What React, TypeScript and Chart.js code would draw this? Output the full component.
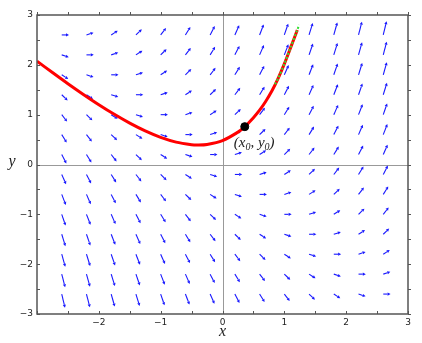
import React, { useEffect, useRef } from "react";
import { Chart, registerables } from "chart.js";

Chart.register(...registerables);

// Grid of slope-field arrow tails
const gridX = [-2.6, -2.2, -1.8, -1.4, -1.0, -0.6, -0.2, 0.2, 0.6, 1.0, 1.4, 1.8, 2.2, 2.6];
const gridY = [2.6, 2.2, 1.8, 1.4, 1.0, 0.6, 0.2, -0.2, -0.6, -1.0, -1.4, -1.8, -2.2, -2.6];

// slope dy/dx read at each grid point (rows follow gridY, columns follow gridX)
const slopes = [
  [0, 0.4, 0.8, 1.2, 1.6, 2.0, 2.4, 2.8, 3.2, 3.6, 4.0, 4.4, 4.8, 5.2],
  [-0.4, 0, 0.4, 0.8, 1.2, 1.6, 2.0, 2.4, 2.8, 3.2, 3.6, 4.0, 4.4, 4.8],
  [-0.8, -0.4, 0, 0.4, 0.8, 1.2, 1.6, 2.0, 2.4, 2.8, 3.2, 3.6, 4.0, 4.4],
  [-1.2, -0.8, -0.4, 0, 0.4, 0.8, 1.2, 1.6, 2.0, 2.4, 2.8, 3.2, 3.6, 4.0],
  [-1.6, -1.2, -0.8, -0.4, 0, 0.4, 0.8, 1.2, 1.6, 2.0, 2.4, 2.8, 3.2, 3.6],
  [-2.0, -1.6, -1.2, -0.8, -0.4, 0, 0.4, 0.8, 1.2, 1.6, 2.0, 2.4, 2.8, 3.2],
  [-2.4, -2.0, -1.6, -1.2, -0.8, -0.4, 0, 0.4, 0.8, 1.2, 1.6, 2.0, 2.4, 2.8],
  [-2.8, -2.4, -2.0, -1.6, -1.2, -0.8, -0.4, 0, 0.4, 0.8, 1.2, 1.6, 2.0, 2.4],
  [-3.2, -2.8, -2.4, -2.0, -1.6, -1.2, -0.8, -0.4, 0, 0.4, 0.8, 1.2, 1.6, 2.0],
  [-3.6, -3.2, -2.8, -2.4, -2.0, -1.6, -1.2, -0.8, -0.4, 0, 0.4, 0.8, 1.2, 1.6],
  [-4.0, -3.6, -3.2, -2.8, -2.4, -2.0, -1.6, -1.2, -0.8, -0.4, 0, 0.4, 0.8, 1.2],
  [-4.4, -4.0, -3.6, -3.2, -2.8, -2.4, -2.0, -1.6, -1.2, -0.8, -0.4, 0, 0.4, 0.8],
  [-4.8, -4.4, -4.0, -3.6, -3.2, -2.8, -2.4, -2.0, -1.6, -1.2, -0.8, -0.4, 0, 0.4],
  [-5.2, -4.8, -4.4, -4.0, -3.6, -3.2, -2.8, -2.4, -2.0, -1.6, -1.2, -0.8, -0.4, 0],
];

// Solution curve (red)
const curveX = [-3, -2.75, -2.5, -2.25, -2, -1.75, -1.5, -1.25, -1, -0.75, -0.5, -0.4, -0.25, 0, 0.25, 0.36, 0.5, 0.6, 0.7, 0.8, 0.9, 1.0, 1.1, 1.21];
const curveY = [2.074, 1.845, 1.621, 1.406, 1.2, 1.007, 0.83, 0.674, 0.544, 0.449, 0.398, 0.392, 0.403, 0.48, 0.65, 0.76, 0.94, 1.09, 1.27, 1.48, 1.73, 2.02, 2.34, 2.7];

// Overlaid dotted curve (green)
const dotX = [0.85, 0.9, 1.0, 1.1, 1.2, 1.24];
const dotY = [1.61, 1.73, 2.02, 2.34, 2.67, 2.8];

// Initial point
const pointX = [0.36];
const pointY = [0.76];
const pointLabel = ["(x", "0", ", y", "0", ")"];

const xTicks = [-3, -2, -1, 0, 1, 2, 3];
const yTicks = [-3, -2, -1, 0, 1, 2, 3];
const xTitle = "x";
const yTitle = "y";

const fmt = (v: number) => (v < 0 ? "\u2212" + Math.abs(v) : String(v));

const decorPlugin = {
  id: "decor",
  beforeDatasetsDraw(chart: any) {
    const { ctx, chartArea: a, scales } = chart;
    const xs = scales.x;
    const ys = scales.y;
    ctx.save();
    // zero axes
    ctx.strokeStyle = "#999";
    ctx.lineWidth = 1;
    const zx = Math.round(xs.getPixelForValue(0)) + 0.5;
    const zy = Math.round(ys.getPixelForValue(0)) + 0.5;
    ctx.beginPath();
    ctx.moveTo(zx, a.top);
    ctx.lineTo(zx, a.bottom);
    ctx.moveTo(a.left, zy);
    ctx.lineTo(a.right, zy);
    ctx.stroke();

    // slope field arrows
    ctx.strokeStyle = "rgb(25,25,255)";
    ctx.fillStyle = "rgb(25,25,255)";
    ctx.lineWidth = 1.1;
    gridY.forEach((gy, i) => {
      gridX.forEach((gx, j) => {
        const f = slopes[i][j];
        const k = 0.118 / Math.pow(1 + f * f, 0.24);
        const x0 = xs.getPixelForValue(gx);
        const y0 = ys.getPixelForValue(gy);
        const x1 = xs.getPixelForValue(gx + k);
        const y1 = ys.getPixelForValue(gy + k * f);
        const dx = x1 - x0;
        const dy = y1 - y0;
        const len = Math.hypot(dx, dy);
        const ux = dx / len;
        const uy = dy / len;
        const hl = 3;
        const hw = 1.6;
        const bx = x1 - ux * hl;
        const by = y1 - uy * hl;
        ctx.beginPath();
        ctx.moveTo(x0, y0);
        ctx.lineTo(bx, by);
        ctx.stroke();
        ctx.beginPath();
        ctx.moveTo(x1, y1);
        ctx.lineTo(bx - uy * hw, by + ux * hw);
        ctx.lineTo(bx + uy * hw, by - ux * hw);
        ctx.closePath();
        ctx.fill();
      });
    });
    ctx.restore();
  },
  afterDraw(chart: any) {
    const { ctx, chartArea: a, scales } = chart;
    const xs = scales.x;
    const ys = scales.y;
    ctx.save();
    // frame
    ctx.strokeStyle = "#555";
    ctx.lineWidth = 1.5;
    ctx.strokeRect(a.left, a.top, a.right - a.left, a.bottom - a.top);
    // tick marks (major and half-step minor)
    ctx.lineWidth = 1;
    ctx.strokeStyle = "#555";
    ctx.beginPath();
    for (let v = -3; v <= 3.001; v += 0.5) {
      const px = Math.round(xs.getPixelForValue(v)) + 0.5;
      ctx.moveTo(px, a.bottom);
      ctx.lineTo(px, a.bottom - 3);
      ctx.moveTo(px, a.top);
      ctx.lineTo(px, a.top - 3);
      const py = Math.round(ys.getPixelForValue(v)) + 0.5;
      ctx.moveTo(a.left, py);
      ctx.lineTo(a.left + 3, py);
      ctx.moveTo(a.right, py);
      ctx.lineTo(a.right + 3, py);
    }
    ctx.stroke();

    // point label with subscripts
    const lx = xs.getPixelForValue(pointX[0]) - 11;
    const ly = ys.getPixelForValue(pointY[0]) + 20;
    ctx.fillStyle = "#222";
    ctx.textBaseline = "alphabetic";
    ctx.textAlign = "left";
    let cx = lx;
    pointLabel.forEach((t, i) => {
      const sub = i % 2 === 1;
      ctx.font = sub ? "italic 10px 'Liberation Serif'" : "italic 15px 'Liberation Serif'";
      ctx.fillText(t, cx, sub ? ly + 3 : ly);
      cx += ctx.measureText(t).width;
    });

    // axis titles
    ctx.font = "italic 16px 'Liberation Serif'";
    ctx.textAlign = "center";
    ctx.textBaseline = "middle";
    ctx.fillText(xTitle, xs.getPixelForValue(0), 332);
    ctx.fillText(yTitle, 12, ys.getPixelForValue(0) - 3);
    ctx.restore();
  },
};

export default function App() {
  const ref = useRef<HTMLCanvasElement | null>(null);
  useEffect(() => {
    if (!ref.current) return;
    const chart = new Chart(ref.current, {
      type: "line",
      data: {
        datasets: [
          {
            data: pointX.map((x, i) => ({ x, y: pointY[i] })),
            showLine: false,
            pointRadius: 4,
            pointBackgroundColor: "#000",
            pointBorderColor: "#000",
            borderColor: "#000",
          },
          {
            data: dotX.map((x, i) => ({ x, y: dotY[i] })),
            borderColor: "#33dd33",
            borderWidth: 2,
            borderDash: [2, 2],
            pointRadius: 0,
            tension: 0.3,
            fill: false,
          },
          {
            data: curveX.map((x, i) => ({ x, y: curveY[i] })),
            borderColor: "#ff0000",
            borderWidth: 3,
            pointRadius: 0,
            tension: 0.3,
            fill: false,
          },
        ],
      } as any,
      options: {
        animation: false,
        responsive: false,
        maintainAspectRatio: false,
        layout: { padding: { top: 15, right: 14, left: 0, bottom: 0 } },
        plugins: { legend: { display: false }, tooltip: { enabled: false } },
        scales: {
          x: {
            type: "linear",
            min: -3,
            max: 3,
            afterFit: (s: any) => {
              s.height = 29;
            },
            afterBuildTicks: (s: any) => {
              s.ticks = xTicks.map((v) => ({ value: v }));
            },
            ticks: {
              callback: (v: any) => (v === -3 ? "" : fmt(Number(v))),
              font: { family: "'DejaVu Sans'", size: 9 },
              color: "#222",
              padding: 3,
              maxRotation: 0,
              autoSkip: false,
            },
            grid: { display: false, drawTicks: false },
            border: { display: false },
          },
          y: {
            type: "linear",
            min: -3,
            max: 3,
            afterFit: (s: any) => {
              s.width = 37;
            },
            afterBuildTicks: (s: any) => {
              s.ticks = yTicks.map((v) => ({ value: v }));
            },
            ticks: {
              callback: (v: any) => fmt(Number(v)),
              font: { family: "'DejaVu Sans'", size: 9 },
              color: "#222",
              padding: 4,
              autoSkip: false,
            },
            grid: { display: false, drawTicks: false },
            border: { display: false },
          },
        },
      } as any,
      plugins: [decorPlugin],
    });
    return () => chart.destroy();
  }, []);
  return (
    <div style={{ position: "fixed", left: 0, top: 0, width: 422, height: 343, background: "#fff" }}>
      <canvas ref={ref} width={422} height={343} style={{ width: 422, height: 343 }} />
    </div>
  );
}
